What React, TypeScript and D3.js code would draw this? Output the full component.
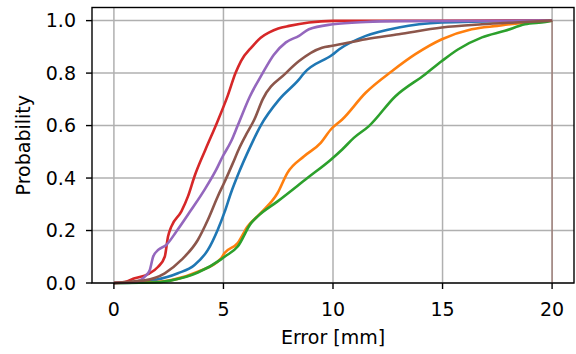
import React from "react";
import * as d3 from "d3";

const seriesNames = ["blue", "orange", "green", "red", "purple", "brown"];
const colors = ["#1f77b4", "#ff7f0e", "#2ca02c", "#d62728", "#9467bd", "#8c564b"];

const blueX = [0, 1.0, 1.86, 2.92, 3.68, 4.29, 4.74, 5.05, 5.35, 5.7, 6.2, 6.7, 7.55, 8.45, 8.68, 9.97, 10.27, 11.5, 13.0, 14.96, 16.8, 20];
const blueY = [0, 0.002, 0.011, 0.037, 0.069, 0.126, 0.203, 0.27, 0.345, 0.42, 0.515, 0.6, 0.7, 0.776, 0.8, 0.87, 0.89, 0.942, 0.974, 0.993, 0.997, 1];

const orangeX = [0, 1.94, 2.62, 3.83, 4.89, 5.05, 5.65, 6.1, 6.71, 7.47, 7.92, 8.68, 9.44, 9.9, 10.42, 11.49, 12.7, 13.76, 14.97, 16.33, 17.5, 19.1, 20];
const orangeY = [0, 0.004, 0.011, 0.043, 0.094, 0.114, 0.152, 0.215, 0.267, 0.343, 0.42, 0.483, 0.534, 0.585, 0.623, 0.725, 0.808, 0.872, 0.929, 0.967, 0.98, 0.995, 1];

const greenX = [0, 2.0, 2.62, 3.83, 4.89, 5.05, 5.65, 6.26, 6.56, 7.47, 8.83, 9.9, 10.42, 10.95, 11.64, 12.85, 14.2, 14.97, 15.7, 16.8, 17.85, 18.76, 19.7, 20];
const greenY = [0, 0.003, 0.01, 0.04, 0.09, 0.1, 0.139, 0.228, 0.254, 0.311, 0.4, 0.47, 0.509, 0.553, 0.598, 0.712, 0.795, 0.846, 0.89, 0.936, 0.961, 0.986, 0.995, 1];

const redX = [0, 0.5, 0.95, 1.56, 2.02, 2.32, 2.47, 2.62, 3.08, 3.38, 3.68, 4.18, 4.7, 5.2, 5.55, 5.8, 6.3, 6.7, 7.09, 7.5, 8.0, 8.9, 10.0, 20];
const redY = [0, 0.004, 0.018, 0.034, 0.062, 0.1, 0.177, 0.215, 0.273, 0.33, 0.407, 0.509, 0.61, 0.715, 0.8, 0.846, 0.9, 0.935, 0.955, 0.97, 0.98, 0.993, 0.999, 1];

const purpleX = [0, 1.0, 1.41, 1.64, 1.79, 2.02, 2.39, 2.85, 3.53, 4.14, 4.67, 4.97, 5.35, 5.65, 6.2, 6.79, 7.3, 7.85, 8.45, 8.9, 10.0, 11.5, 13.0, 20];
const purpleY = [0, 0.005, 0.024, 0.05, 0.1, 0.126, 0.145, 0.196, 0.279, 0.356, 0.432, 0.483, 0.54, 0.6, 0.71, 0.8, 0.87, 0.917, 0.942, 0.967, 0.986, 0.995, 0.998, 1];

const brownX = [0, 1.18, 1.41, 2.32, 3.08, 3.83, 4.29, 4.74, 5.05, 5.42, 5.7, 6.0, 6.41, 6.79, 7.85, 8.45, 9.5, 9.97, 11.5, 13.0, 14.97, 16.8, 18.3, 20];
const brownY = [0, 0.008, 0.01, 0.037, 0.088, 0.164, 0.241, 0.33, 0.385, 0.455, 0.51, 0.56, 0.623, 0.7, 0.8, 0.846, 0.897, 0.904, 0.929, 0.948, 0.974, 0.986, 0.993, 1];

const xTicks = [0, 5, 10, 15, 20];
const yTicks = [0, 0.2, 0.4, 0.6, 0.8, 1.0];

const allX = [blueX, orangeX, greenX, redX, purpleX, brownX];
const allY = [blueY, orangeY, greenY, redY, purpleY, brownY];

const W = 576, H = 354;
const left = 92, right = 574, top = 7.5, bottom = 283;
const FONT = "DejaVu Sans, sans-serif";
const FS = 19;

export default function App() {
  const x = d3.scaleLinear().domain([-1, 21]).range([left, right]);
  const y = d3.scaleLinear().domain([0, 1.05]).range([bottom, top]);
  const line = d3.line<[number, number]>().x(d => x(d[0])).y(d => y(d[1])).curve(d3.curveMonotoneX);
  return (
    <svg width={W} height={H} style={{ position: "absolute", left: 0, top: 0, background: "#fff" }}>
      <g>
        {xTicks.map(t => (
          <line key={"gx" + t} x1={x(t)} x2={x(t)} y1={top} y2={bottom} stroke="#b0b0b0" strokeWidth={1.5} />
        ))}
        {yTicks.map(t => (
          <line key={"gy" + t} x1={left} x2={right} y1={y(t)} y2={y(t)} stroke="#b0b0b0" strokeWidth={1.5} />
        ))}
      </g>
      <g fill="none" strokeLinejoin="round" strokeLinecap="butt">
        {seriesNames.map((n, i) => {
          const pts: [number, number][] = allX[i].map((v, j) => [v, allY[i][j]]);
          return <path key={n} d={line(pts) || ""} stroke={colors[i]} strokeWidth={2.6} />;
        })}
        <line x1={x(20)} x2={x(20)} y1={y(1)} y2={y(0)} stroke={colors[5]} strokeOpacity={0.55} strokeWidth={1.5} />
      </g>
      <rect x={left} y={top} width={right - left} height={bottom - top} fill="none" stroke="#000" strokeWidth={1.4} />
      {xTicks.map(t => (
        <g key={"tx" + t}>
          <line x1={x(t)} x2={x(t)} y1={bottom} y2={bottom + 6} stroke="#000" strokeWidth={1.4} />
          <text x={x(t)} y={bottom + 33} textAnchor="middle" fontFamily={FONT} fontSize={FS} fill="#000">{t}</text>
        </g>
      ))}
      {yTicks.map(t => (
        <g key={"ty" + t}>
          <line x1={left - 6} x2={left} y1={y(t)} y2={y(t)} stroke="#000" strokeWidth={1.4} />
          <text x={left - 16} y={y(t)} dy="0.36em" textAnchor="end" fontFamily={FONT} fontSize={FS} fill="#000">{t.toFixed(1)}</text>
        </g>
      ))}
      <text x={(left + right) / 2} y={bottom + 61} textAnchor="middle" fontFamily={FONT} fontSize={FS} fill="#000">Error [mm]</text>
      <text transform={`translate(${30},${(top + bottom) / 2}) rotate(-90)`} textAnchor="middle" fontFamily={FONT} fontSize={FS} fill="#000">Probability</text>
    </svg>
  );
}
